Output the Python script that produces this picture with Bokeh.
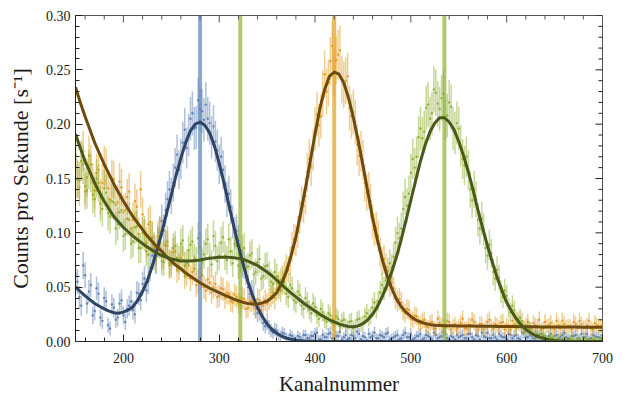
from bokeh.plotting import figure
from bokeh.models import Range1d, FixedTicker, PrintfTickFormatter, ColumnDataSource
from bokeh.embed import file_html
from bokeh.resources import INLINE
import numpy as np

# channel numbers of the measured points and of the fit samples
chan_a = list(range(150, 702, 4))
chan_b = list(range(152, 702, 4))
fit_chan = list(range(150, 705, 5))

# measured count rates in 1/1000 counts per second (channels chan_a and chan_b)
blue_a = [
    62, 41, 70, 35, 52, 28, 44, 19, 37, 12,
    31, 22, 38, 18, 33, 29, 45, 38, 58, 55,
    79, 75, 100, 102, 131, 134, 160, 158, 183, 178,
    205, 196, 222, 212, 218, 201, 198, 176, 170, 145,
    136, 110, 102, 78, 70, 50, 46, 30, 28, 17,
    18, 10, 11, 6, 8, 4, 6, 3, 5, 2,
    6, 3, 5, 8, 2, 4, 7, 3, 5, 9,
    4, 2, 6, 3, 7, 5, 1, 4, 8, 3,
    5, 7, 2, 4, 6, 3, 8, 4, 2, 5,
    7, 3, 5, 2, 6, 4, 9, 3, 5, 2,
    4, 6, 3, 7, 2, 5, 8, 4, 3, 6,
    2, 5, 4, 7, 3, 6, 2, 8, 4, 5,
    3, 6, 4, 2, 7, 5, 3, 6, 4, 2,
    5, 3, 7, 4, 2, 6, 4, 3]
blue_b = [
    55, 33, 61, 46, 24, 49, 22, 40, 15, 34,
    20, 35, 24, 30, 37, 25, 44, 53, 47, 68,
    85, 92, 111, 121, 140, 146, 172, 168, 195, 190,
    210, 197, 214, 204, 205, 188, 184, 163, 158, 131,
    124, 100, 93, 72, 64, 44, 41, 26, 25, 14,
    13, 8, 10, 5, 7, 3, 5, 2, 4, 6,
    3, 5, 7, 2, 6, 4, 8, 3, 5, 2,
    6, 3, 5, 9, 2, 4, 7, 5, 3, 6,
    4, 8, 3, 5, 2, 6, 4, 7, 3, 5,
    2, 6, 4, 8, 3, 5, 7, 2, 4, 6,
    5, 3, 7, 4, 6, 2, 5, 8, 3, 4,
    7, 4, 2, 6, 5, 3, 8, 4, 6, 3,
    4, 7, 3, 5, 2, 6, 4, 8, 3, 5,
    6, 2, 4, 7, 3, 5, 4, 6]
orange_a = [
    168, 142, 175, 151, 163, 139, 158, 146, 160, 131,
    149, 128, 142, 121, 138, 112, 124, 140, 98, 108,
    96, 84, 101, 80, 88, 74, 83, 69, 75, 63,
    58, 67, 55, 61, 47, 54, 50, 41, 49, 40,
    44, 36, 41, 33, 39, 31, 37, 30, 38, 33,
    35, 42, 40, 53, 54, 68, 74, 94, 101, 127,
    134, 168, 176, 209, 207, 246, 238, 272, 259, 268,
    236, 244, 207, 202, 171, 167, 137, 129, 103, 97,
    74, 69, 52, 49, 37, 36, 26, 29, 20, 23,
    16, 20, 13, 18, 12, 17, 14, 19, 11, 16,
    14, 21, 12, 15, 18, 11, 16, 13, 20, 12,
    15, 17, 11, 14, 19, 12, 16, 13, 18, 11,
    15, 20, 12, 14, 17, 11, 15, 19, 13, 14,
    18, 12, 16, 13, 19, 11, 15, 14]
orange_b = [
    150, 166, 138, 171, 147, 155, 133, 162, 141, 150,
    126, 147, 119, 133, 104, 129, 99, 117, 91, 110,
    87, 97, 79, 90, 70, 82, 66, 77, 60, 70,
    64, 52, 59, 50, 57, 45, 53, 42, 48, 45,
    37, 43, 35, 40, 30, 37, 33, 39, 29, 38,
    39, 45, 48, 56, 62, 66, 87, 93, 115, 125,
    156, 161, 196, 199, 228, 230, 258, 247, 264, 241,
    240, 215, 211, 181, 175, 146, 139, 111, 104, 82,
    76, 58, 54, 40, 39, 28, 30, 21, 24, 17,
    19, 14, 17, 12, 21, 15, 13, 18, 14, 12,
    17, 12, 15, 20, 13, 16, 11, 18, 14, 16,
    13, 18, 15, 11, 16, 20, 13, 15, 12, 17,
    14, 11, 18, 15, 13, 19, 12, 16, 14, 11,
    16, 19, 13, 15, 12, 17, 14, 15]
green_a = [
    172, 148, 163, 139, 155, 131, 146, 122, 137, 115,
    128, 108, 121, 99, 112, 92, 106, 86, 101, 80,
    95, 76, 90, 73, 92, 71, 88, 75, 93, 72,
    89, 77, 95, 73, 90, 78, 97, 74, 91, 79,
    94, 72, 88, 76, 86, 69, 81, 64, 76, 60,
    70, 55, 64, 50, 58, 44, 52, 38, 46, 33,
    40, 29, 35, 24, 30, 20, 26, 17, 23, 14,
    20, 13, 19, 14, 21, 17, 26, 24, 36, 37,
    52, 56, 72, 78, 100, 104, 133, 136, 168, 170,
    196, 193, 218, 210, 229, 214, 228, 208, 216, 192,
    196, 168, 170, 140, 140, 112, 113, 86, 89, 64,
    66, 46, 47, 31, 33, 20, 22, 12, 14, 7,
    9, 4, 6, 2, 4, 1, 3, 2, 0, 3,
    1, 2, 0, 3, 1, 2, 0, 2]
green_b = [
    149, 166, 143, 158, 135, 150, 127, 141, 118, 129,
    104, 119, 97, 113, 90, 105, 86, 100, 83, 94,
    79, 91, 74, 88, 72, 86, 77, 90, 70, 84,
    92, 74, 87, 80, 94, 71, 88, 79, 96, 75,
    83, 90, 70, 84, 67, 79, 62, 73, 58, 69,
    62, 53, 60, 47, 55, 41, 49, 36, 43, 30,
    36, 26, 32, 21, 27, 18, 24, 15, 21, 19,
    15, 18, 12, 20, 16, 23, 22, 31, 30, 45,
    49, 65, 68, 91, 95, 122, 125, 155, 160, 188,
    187, 215, 205, 232, 219, 224, 205, 220, 196, 201,
    180, 162, 158, 130, 131, 104, 103, 79, 81, 58,
    59, 41, 42, 27, 29, 17, 19, 10, 12, 6,
    7, 3, 5, 1, 3, 2, 0, 3, 1, 2,
    0, 3, 1, 2, 0, 2, 1, 3]

# fitted curves sampled every 5 channels, in 1/1000 counts per second
blue_fit = [
    50, 46, 42, 38.5, 35, 32.5, 30, 28, 26.5, 26,
    27, 29, 32, 38, 46, 56, 69, 84, 100, 118,
    135, 153, 169, 183, 194, 200, 202, 199, 192, 180,
    164, 146, 126, 107, 88, 71, 55, 42, 31, 23,
    16, 11, 7.5, 5, 3, 2, 1.2, 0.8, 0.5, 0.3,
    0.2, 0, 0, 0, 0, 0, 0, 0, 0, 0,
    0, 0, 0, 0, 0, 0, 0, 0, 0, 0,
    0, 0, 0, 0, 0, 0, 0, 0, 0, 0,
    0, 0, 0, 0, 0, 0, 0, 0, 0, 0,
    0, 0, 0, 0, 0, 0, 0, 0, 0, 0,
    0, 0, 0, 0, 0, 0, 0, 0, 0, 0,
    0]
orange_fit = [
    234, 220, 207, 195, 183, 173, 163, 154, 145, 137,
    129, 122, 115, 109, 103, 97, 92, 87, 83, 78,
    74, 70, 67, 63, 60, 57, 54, 51.5, 49, 47,
    45, 43, 41, 39, 37.5, 36, 35, 34.5, 34.5, 35.5,
    37, 40.5, 45, 53, 64, 79, 96, 118, 141, 166,
    191, 214, 232, 244, 248, 246, 238, 224, 206, 185,
    162, 138, 114, 94, 76, 61, 49, 39, 32, 27,
    23, 20, 18, 16.5, 15.5, 15, 14.8, 14.6, 14.5, 14.4,
    14.3, 14.25, 14.2, 14.15, 14.1, 14.05, 14.0, 13.95, 13.9, 13.85,
    13.8, 13.75, 13.7, 13.65, 13.6, 13.55, 13.5, 13.45, 13.4, 13.4,
    13.4, 13.35, 13.3, 13.3, 13.3, 13.25, 13.2, 13.2, 13.2, 13.15,
    13.1]
green_fit = [
    191, 178, 166, 156, 146, 137, 129, 122, 115, 110,
    105, 101, 97, 93.5, 90, 87, 84, 81.5, 79, 77.5,
    76, 75, 74, 74, 74, 74.5, 75, 76, 76.5, 77,
    77.5, 77.5, 77.5, 77, 76.5, 75.5, 74, 72, 70, 67,
    64, 60.5, 56.5, 52.5, 48.5, 44.5, 41, 37.5, 34, 31,
    28, 25, 22.5, 20, 18, 16.2, 14.8, 13.9, 13.5, 14.4,
    16.5, 20, 25, 32, 41, 51.5, 64, 78, 94, 112,
    130, 148, 166, 181, 193, 201, 206, 206, 202, 195,
    184, 171, 156, 139, 121, 104, 88, 73, 59, 47,
    36, 28, 21, 15.5, 11, 8, 5.5, 3.8, 2.5, 1.6,
    1, 0.6, 0.4, 0.2, 0.1, 0.05, 0, 0, 0, 0,
    0]

# peak positions marked by vertical lines
marker_chan = [280, 322, 420, 535]
marker_series = ["blue", "green", "orange", "green"]

# tick values
x_major = [200, 300, 400, 500, 600, 700]
x_minor = [v for v in range(160, 701, 20) if v not in x_major]
y_major = [0.0, 0.05, 0.10, 0.15, 0.20, 0.25, 0.30]
y_minor = [i / 100 for i in range(0, 31) if i % 5 != 0]

colors = {"blue": "#5E81B5", "orange": "#E19C24", "green": "#8FB032"}
fit_colors = {"blue": "#2F4462", "orange": "#6E4B0C", "green": "#48591A"}

FONT = "Liberation Serif"
TXT = "#1a1a1a"

p = figure(width=625, height=399, x_range=Range1d(150, 700), y_range=Range1d(0, 0.30),
           output_backend="svg", toolbar_location=None,
           min_border_left=75, min_border_right=23, min_border_top=15, min_border_bottom=58)
p.xgrid.visible = False
p.ygrid.visible = False
p.outline_line_color = "#555555"
p.outline_line_width = 1
p.background_fill_color = "white"

series = {"blue": (blue_a, blue_b), "orange": (orange_a, orange_b), "green": (green_a, green_b)}
for name in ["blue", "orange", "green"]:
    a, b = series[name]
    for xs, vals in ((chan_a, a), (chan_b, b)):
        y = np.array(vals, dtype=float) / 1000.0
        err = 0.002 + 0.04 * np.sqrt(np.clip(y, 0, None))
        src = ColumnDataSource(dict(x=xs, y=y, lo=y - err, hi=y + err))
        p.segment(x0="x", y0="lo", x1="x", y1="hi", source=src, line_color=colors[name],
                  line_alpha=0.5, line_width=1.5)
        p.scatter(x="x", y="y", source=src, size=2.4, fill_color=colors[name],
                  line_color=None, fill_alpha=0.95)

for xc, nm in zip(marker_chan, marker_series):
    p.segment(x0=[xc], y0=[0], x1=[xc], y1=[0.30], line_color=colors[nm],
              line_alpha=0.7, line_width=4)

fits = {"blue": blue_fit, "orange": orange_fit, "green": green_fit}
for name in ["blue", "orange", "green"]:
    p.line(fit_chan, np.array(fits[name]) / 1000.0, line_color=fit_colors[name],
           line_width=3, line_join="round")

# inward ticks on the top and right frame edges
p.scatter(x=x_major, y=[0.30] * len(x_major), marker="dash", angle=np.pi / 2, size=14,
          line_color="#555555", line_width=1)
p.scatter(x=x_minor, y=[0.30] * len(x_minor), marker="dash", angle=np.pi / 2, size=8,
          line_color="#555555", line_width=1)
p.scatter(x=[700] * len(y_major), y=y_major, marker="dash", size=14,
          line_color="#222222", line_width=1)
p.scatter(x=[700] * len(y_minor), y=y_minor, marker="dash", size=8,
          line_color="#222222", line_width=1)

def style(ax, major, minor):
    ax.ticker = FixedTicker(ticks=major, minor_ticks=minor)
    ax.major_tick_in = 7
    ax.major_tick_out = 0
    ax.minor_tick_in = 4
    ax.minor_tick_out = 0
    ax.axis_line_color = "#222222"
    ax.major_tick_line_color = "#222222"
    ax.minor_tick_line_color = "#222222"
    ax.major_label_text_font = FONT
    ax.major_label_text_font_size = "14px"
    ax.major_label_text_color = TXT
    ax.axis_label_text_font = FONT
    ax.axis_label_text_font_style = "normal"
    ax.axis_label_text_font_size = "21px"
    ax.axis_label_text_color = TXT

style(p.xaxis[0], x_major, x_minor)
style(p.yaxis[0], y_major, y_minor)
p.xaxis[0].axis_label = "Kanalnummer"
p.xaxis[0].major_label_standoff = 11
p.xaxis[0].axis_label_standoff = 6
p.yaxis[0].axis_label = "Counts pro Sekunde [s⁻¹]"
p.yaxis[0].axis_label_text_font_size = "22px"
p.yaxis[0].formatter = PrintfTickFormatter(format="%.2f")
p.yaxis[0].major_label_standoff = 5
p.yaxis[0].axis_label_standoff = 10

open("out.html", "w").write(file_html(p, INLINE))
